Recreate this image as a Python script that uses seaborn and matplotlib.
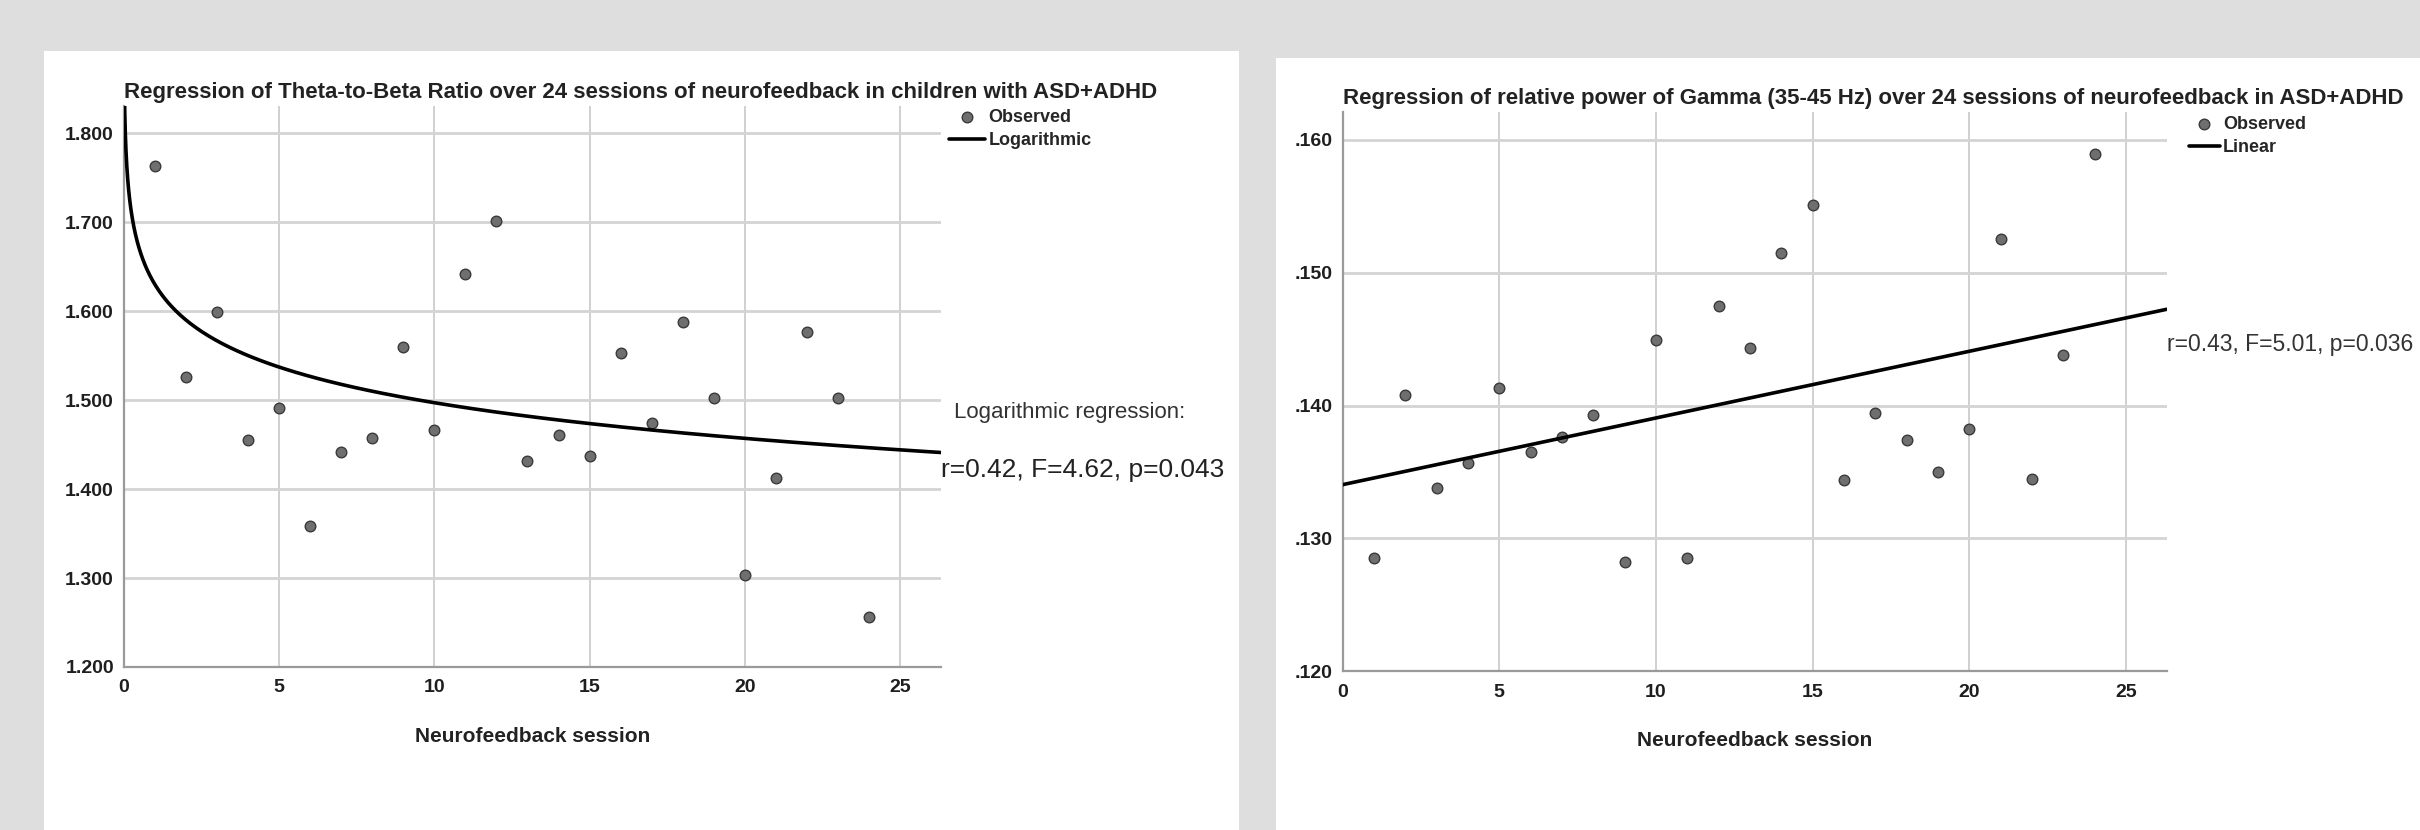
import matplotlib
matplotlib.use('Agg')
import matplotlib.pyplot as plt
from matplotlib.patches import Rectangle
from matplotlib.ticker import FuncFormatter
import seaborn as sns
import numpy as np
import pandas as pd

# Values (sessions 1..24)
sessions = list(range(1, 25))
tbr = [1.763, 1.526, 1.599, 1.455, 1.491, 1.359, 1.442, 1.457, 1.560, 1.467, 1.642, 1.702,
       1.432, 1.461, 1.437, 1.553, 1.474, 1.588, 1.502, 1.304, 1.412, 1.577, 1.502, 1.256]
gamma = [0.1285, 0.1408, 0.1338, 0.1357, 0.1413, 0.1365, 0.1376, 0.1393, 0.1282, 0.1449, 0.1285, 0.1475,
         0.1443, 0.1515, 0.1551, 0.1344, 0.1394, 0.1374, 0.1350, 0.1382, 0.1525, 0.1345, 0.1438, 0.1589]

title_tbr = 'Regression of Theta-to-Beta Ratio over 24 sessions of neurofeedback in children with ASD+ADHD'
title_gamma = 'Regression of relative power of Gamma (35-45 Hz) over 24 sessions of neurofeedback in ASD+ADHD'
stats_tbr = 'r=0.42, F=4.62, p=0.043'
stats_gamma = 'r=0.43, F=5.01, p=0.036'

tbr_df = pd.DataFrame({'session': sessions, 'value': tbr})
gamma_df = pd.DataFrame({'session': sessions, 'value': gamma})

sns.set_style('white')
plt.rcParams['font.family'] = ['Liberation Sans', 'DejaVu Sans']

fig = plt.figure(figsize=(24.2, 8.3), dpi=100, facecolor='#dedede')
fig.patches.append(Rectangle((0.0182, 0), 0.4938, 0.9386, transform=fig.transFigure,
                             facecolor='white', edgecolor='none', zorder=-10))
fig.patches.append(Rectangle((0.5273, 0), 0.4727, 0.9301, transform=fig.transFigure,
                             facecolor='white', edgecolor='none', zorder=-10))

ax1 = fig.add_axes([0.0511, 0.1964, 0.3376, 0.676])
ax2 = fig.add_axes([0.5548, 0.1912, 0.3405, 0.6736])

pt_kws = dict(s=58, color='#6f6f6f', edgecolor='#3a3a3a', linewidth=1.0, zorder=3)


def style_axes(ax, ylim, yticks, fmt):
    ax.set_facecolor('none')
    ax.set_xlim(0, 26.3)
    ax.set_ylim(*ylim)
    ax.set_xticks([0, 5, 10, 15, 20, 25])
    ax.set_yticks(yticks)
    ax.yaxis.set_major_formatter(FuncFormatter(fmt))
    ax.xaxis.grid(True, color='#c4c4c4', linewidth=1.1)
    ax.yaxis.grid(True, color='#d4d4d4', linewidth=2.0)
    ax.set_axisbelow(True)
    for side in ['top', 'right']:
        ax.spines[side].set_visible(False)
    for side in ['left', 'bottom']:
        ax.spines[side].set_color('#9a9a9a')
        ax.spines[side].set_linewidth(1.6)
    ax.tick_params(length=0, labelsize=14, labelcolor='#1e1e1e')
    ax.tick_params(axis='x', pad=9)
    ax.tick_params(axis='y', pad=7)
    for lab in ax.get_xticklabels() + ax.get_yticklabels():
        lab.set_fontweight('bold')


# Left: logarithmic fit
style_axes(ax1, (1.2, 1.831), [1.2, 1.3, 1.4, 1.5, 1.6, 1.7, 1.8], lambda v, p: f'{v:.3f}')
sns.scatterplot(data=tbr_df, x='session', y='value', ax=ax1, label='Observed', **pt_kws)
b, a = np.polyfit(np.log(tbr_df['session']), tbr_df['value'], 1)
grid = np.geomspace(0.01, 26.3, 400)
ax1.plot(grid, a + b * np.log(grid), color='black', linewidth=2.6, label='Logarithmic', zorder=4)
ax1.set_ylim(1.2, 1.831)
ax1.set_xlim(0, 26.3)
ax1.set_xlabel('Neurofeedback session', fontsize=15, fontweight='bold', color='#222222', labelpad=22)
ax1.set_ylabel('')
ax1.set_title(title_tbr, loc='left', fontsize=16, fontweight='bold', color='#222222', pad=6)
ax1.legend(loc='upper left', bbox_to_anchor=(1.01, 0.995), frameon=False, borderaxespad=0,
           borderpad=0, handlelength=2.0, handletextpad=0.2, labelspacing=0.35,
           prop={'size': 13, 'weight': 'bold'})
ax1.text(1.016, 0.453, 'Logarithmic regression:', transform=ax1.transAxes, fontsize=16,
         color='#333333', va='center', ha='left')
ax1.text(1.0, 0.351, stats_tbr, transform=ax1.transAxes, fontsize=19,
         color='#222222', va='center', ha='left')

# Right: linear fit
style_axes(ax2, (0.12, 0.16207), [0.12, 0.13, 0.14, 0.15, 0.16], lambda v, p: f'{v:.3f}'.lstrip('0'))
sns.scatterplot(data=gamma_df, x='session', y='value', ax=ax2, label='Observed', **pt_kws)
sns.regplot(data=gamma_df, x='session', y='value', ax=ax2, ci=None, truncate=False, scatter=False,
            label='Linear', line_kws=dict(color='black', linewidth=2.6, zorder=4))
ax2.set_xlim(0, 26.3)
ax2.set_ylim(0.12, 0.16207)
ax2.set_xlabel('Neurofeedback session', fontsize=15, fontweight='bold', color='#222222', labelpad=22)
ax2.set_ylabel('')
ax2.set_title(title_gamma, loc='left', fontsize=16, fontweight='bold', color='#222222', pad=6)
ax2.legend(loc='upper left', bbox_to_anchor=(1.027, 0.993), frameon=False, borderaxespad=0,
           borderpad=0, handlelength=1.7, handletextpad=0.2, labelspacing=0.35,
           prop={'size': 13, 'weight': 'bold'})
ax2.text(1.0, 0.585, stats_gamma, transform=ax2.transAxes, fontsize=16.5,
         color='#333333', va='center', ha='left')

fig.savefig('out.png', dpi=100, facecolor=fig.get_facecolor())
